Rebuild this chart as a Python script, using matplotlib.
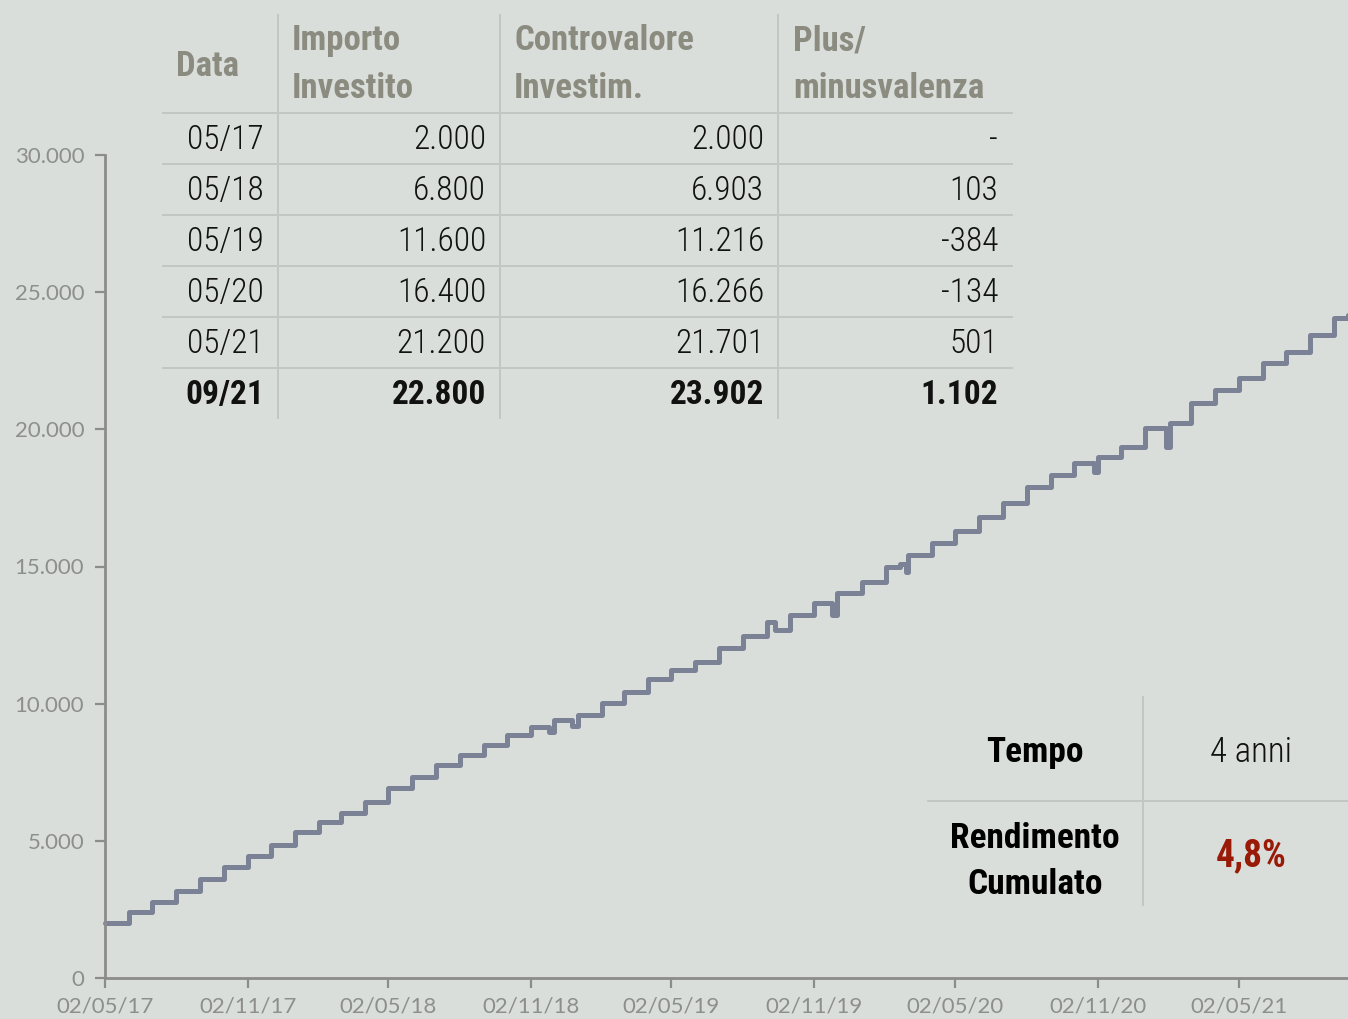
#!/usr/bin/env python3
"""PAC chart: value of a monthly accumulation plan, with summary tables."""
import matplotlib
matplotlib.use("Agg")
import matplotlib.pyplot as plt
import matplotlib.dates as mdates
from matplotlib import font_manager as fm
from matplotlib.ticker import FuncFormatter
import pandas as pd

# ---- data -------------------------------------------------------------
# portfolio value at each monthly contribution (2nd of month), May17 -> Sep21
month_values = [
    2000, 2410, 2770, 3170, 3610, 4050, 4450, 4850, 5320, 5690, 6020, 6420,
    6930, 7330, 7760, 8130, 8490, 8860, 9150, 9410, 9590, 10030, 10430, 10900,
    11230, 11520, 12030, 12450, 12980, 13230, 13670, 14040, 14440, 14980, 15420, 15860,
    16300, 16800, 17320, 17900, 18340, 18770, 19000, 19360, 20050, 20230, 20960, 21440,
    21870, 22420, 22820, 23440, 24060,
]
month_dates = pd.date_range("2017-05-02", periods=len(month_values),
                            freq=pd.DateOffset(months=1))
# visible intra-month moves (dips) and the last point of the series
extra_dates = ["2018-11-25", "2018-12-25", "2019-09-12", "2019-11-25",
               "2020-02-20", "2020-02-28", "2020-10-28", "2021-01-28",
               "2021-09-20"]
extra_values = [8970, 9190, 12700, 13250, 15100, 14800, 18450, 19360, 24170]

x_tick_dates = ["2017-05-02", "2017-11-02", "2018-05-02", "2018-11-02",
                "2019-05-02", "2019-11-02", "2020-05-02", "2020-11-02",
                "2021-05-02"]
y_ticks = [0, 5000, 10000, 15000, 20000, 25000, 30000]

tab_header = ["Data", "Importo\nInvestito", "Controvalore\nInvestim.",
              "Plus/\nminusvalenza"]
tab_date = ["05/17", "05/18", "05/19", "05/20", "05/21", "09/21"]
tab_importo = ["2.000", "6.800", "11.600", "16.400", "21.200", "22.800"]
tab_contro = ["2.000", "6.903", "11.216", "16.266", "21.701", "23.902"]
tab_plus = ["-", "103", "-384", "-134", "501", "1.102"]

summary_labels = ["Tempo", "Rendimento\nCumulato"]
summary_values = ["4 anni", "4,8%"]

# ---- style ------------------------------------------------------------
BG = "#d9dedb"
C_LINE = "#7b8295"
C_AXIS = "#8c8c8c"
C_TICK = "#8e8e8e"
C_HEAD = "#8b8b80"
C_GRID = "#c3c6c3"
C_RED = "#9a1a08"

installed = {f.name for f in fm.fontManager.ttflist}


def pick(*names):
    for n in names:
        if n in installed:
            return [n, "DejaVu Sans"]
    return ["DejaVu Sans"]


NARROW = pick("Roboto Condensed", "Fira Sans Condensed", "Open Sans Condensed",
              "Barlow Semi Condensed", "PT Sans Narrow", "Archivo Narrow",
              "Liberation Sans Narrow")
LIGHT = pick("Lato", "Open Sans")

W, H = 1348, 1019
fig = plt.figure(figsize=(W / 100, H / 100), dpi=100, facecolor=BG)

ax = fig.add_axes([105 / W, 41 / H, 1 - 105 / W, (978 - 155) / H])
ax.set_facecolor(BG)

series = pd.Series(month_values, index=month_dates)
series = pd.concat([series, pd.Series(extra_values, index=pd.to_datetime(extra_dates))])
series = series.sort_index()
ax.plot(series.index, series.values, drawstyle="steps-post", color=C_LINE,
        lw=3.6, solid_joinstyle="round", solid_capstyle="round", clip_on=False)

ax.set_xlim(pd.Timestamp("2017-05-02"), pd.Timestamp("2021-09-20"))
ax.set_ylim(0, 30000)
for s in ("top", "right"):
    ax.spines[s].set_visible(False)
for s in ("left", "bottom"):
    ax.spines[s].set_color(C_AXIS)
    ax.spines[s].set_linewidth(2)

ax.set_yticks(y_ticks)
ax.yaxis.set_major_formatter(FuncFormatter(lambda v, _: f"{int(v):,}".replace(",", ".")))
ax.set_xticks(pd.to_datetime(x_tick_dates))
ax.xaxis.set_major_formatter(mdates.DateFormatter("%d/%m/%y"))
ax.tick_params(axis="both", direction="out", length=7, width=1.6, color=C_AXIS,
               labelcolor=C_TICK, labelsize=16)
ax.tick_params(axis="y", pad=8)
ax.tick_params(axis="x", pad=6)
for lab in ax.get_xticklabels() + ax.get_yticklabels():
    lab.set_family(LIGHT)
    lab.set_fontweight("normal")

# ---- tables (overlay in pixel coordinates) ----------------------------
t = fig.add_axes([0, 0, 1, 1], zorder=3)
t.set_xlim(0, W)
t.set_ylim(H, 0)
t.axis("off")
t.patch.set_alpha(0)

# main table grid
for yl in [113, 164, 215, 266, 317, 368]:
    t.plot([163, 1012], [yl, yl], color=C_GRID, lw=1.4)
for xl in [278, 500, 778]:
    t.plot([xl, xl], [15, 418], color=C_GRID, lw=1.4)

# header
t.text(176, 76, tab_header[0], ha="left", va="baseline", fontsize=25,
       fontweight="bold", color=C_HEAD, family=NARROW)
for xh, txt in zip([292, 514, 793], tab_header[1:]):
    top, bottom = txt.split("\n")
    t.text(xh, 50, top, ha="left", va="baseline", fontsize=25,
           fontweight="bold", color=C_HEAD, family=NARROW)
    t.text(xh, 98, bottom, ha="left", va="baseline", fontsize=25,
           fontweight="bold", color=C_HEAD, family=NARROW)

# body
cols = [tab_date, tab_importo, tab_contro, tab_plus]
right_edges = [264, 486, 764, 998]
for i in range(len(tab_date)):
    yb = 149 + 51 * i
    bold = i == len(tab_date) - 1
    for col, xr in zip(cols, right_edges):
        t.text(xr, yb, col[i], ha="right", va="baseline", fontsize=24,
               fontweight="bold" if bold else "light",
               color="#111111", family=NARROW)

# summary table
t.plot([1143, 1143], [697, 905], color=C_GRID, lw=1.4)
t.plot([928, W], [801, 801], color=C_GRID, lw=1.4)
t.text(1035, 762, summary_labels[0], ha="center", va="baseline", fontsize=25.5,
       fontweight="bold", color="#000000", family=NARROW)
lab1, lab2 = summary_labels[1].split("\n")
t.text(1035, 848, lab1, ha="center", va="baseline", fontsize=25.5,
       fontweight="bold", color="#000000", family=NARROW)
t.text(1035, 894, lab2, ha="center", va="baseline", fontsize=25.5,
       fontweight="bold", color="#000000", family=NARROW)
t.text(1251, 762, summary_values[0], ha="center", va="baseline", fontsize=25,
       fontweight="light", color="#111111", family=NARROW)
t.text(1251, 866, summary_values[1], ha="center", va="baseline", fontsize=27,
       fontweight="bold", color=C_RED, family=NARROW)

fig.savefig("out.png", dpi=100, facecolor=BG)
